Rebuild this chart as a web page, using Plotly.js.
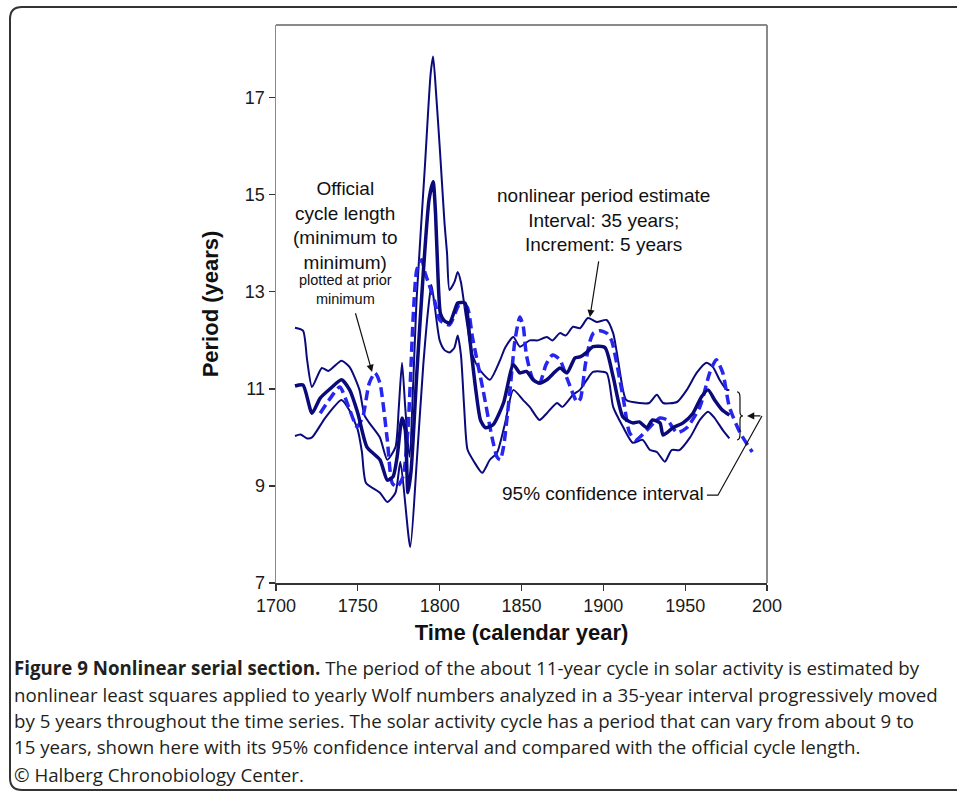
<!DOCTYPE html>
<html>
<head>
<meta charset="utf-8">
<script src="https://cdn.plot.ly/plotly-3.0.1.min.js"></script>
<style>
html,body{margin:0;padding:0;background:#fff;}
#chart{width:957px;height:795px;}
</style>
</head>
<body>
<div id="chart"></div>
<script>
// ---- data ----
const centerYears = [1711.6,1716.5,1722,1727,1733,1740,1745,1750,1755.6,1763.5,1768,1771.5,1774,1777,1779,1780.6,1782.5,1786,1790,1793.5,1796,1797.5,1799,1800.5,1803,1806,1809,1811,1815.5,1818.5,1822,1825,1828,1832.6,1839,1845,1849,1853,1857,1861,1865.5,1873.5,1877.8,1882.7,1885.7,1890,1893.7,1901,1906,1912,1918,1922,1926.6,1930,1934.6,1936.5,1942.6,1948.7,1954.8,1960,1964,1968,1972.5,1977];
const centerVals  = [11.06,11.08,10.5,10.81,11.0,11.19,10.98,10.5,9.8,9.54,9.12,9.19,9.6,10.4,10.15,8.86,9.3,11.3,13.4,14.9,15.27,14.6,13.3,12.55,12.4,12.36,12.6,12.77,12.77,12.0,11.0,10.35,10.2,10.26,10.71,11.5,11.33,11.36,11.19,11.12,11.19,11.43,11.33,11.64,11.66,11.76,11.87,11.85,11.25,10.42,10.3,10.32,10.2,10.36,10.3,10.05,10.2,10.3,10.5,10.84,10.98,10.77,10.57,10.46];

const upperYears = [1711.6,1716.5,1719,1722,1728,1732,1740,1745,1751,1754,1757,1763.5,1768,1773,1775,1777,1779,1781.5,1786,1791,1794.5,1796,1798,1800,1801.5,1803,1804.5,1806,1809,1811,1813,1816,1820,1824.6,1830.7,1837,1840,1845,1849,1855,1860,1865.5,1869,1873.5,1877,1881.5,1885.7,1890.6,1896,1902,1906,1908,1912,1914,1922,1928,1932.7,1936.5,1945,1951,1957,1963,1967,1971,1975.5,1977];
const upperVals  = [12.26,12.2,11.6,11.04,11.43,11.37,11.58,11.45,10.98,10.46,10.3,10.0,9.54,9.8,10.6,11.54,10.6,9.6,12.9,15.6,17.5,17.85,17.0,16.0,15.2,14.4,13.8,13.04,13.2,13.41,13.2,12.5,11.7,11.39,11.19,11.6,11.85,12.07,11.87,12.0,12.0,12.07,12.0,12.15,12.1,12.28,12.25,12.46,12.38,12.42,12.15,11.8,10.98,10.77,10.71,10.71,10.88,10.71,10.73,10.98,11.33,11.54,11.45,11.19,10.98,10.98];

const lowerYears = [1711.6,1715,1719,1722,1730,1740,1745,1750,1752.5,1755,1763.5,1768,1773,1776,1782,1786,1790,1793.5,1795,1797,1800,1803,1806,1809,1811,1813,1815,1817,1821,1826,1830.7,1835,1840,1845,1851,1855,1861,1865.5,1871.7,1875,1881.5,1885.7,1890,1893.7,1902,1906,1912,1918,1924,1928.5,1932.7,1937.6,1941.7,1946.5,1953,1959,1964,1968,1973,1977];
const lowerVals  = [10.03,10.06,9.98,10.0,10.4,10.77,10.55,10.15,9.7,9.06,8.86,8.67,8.86,9.5,7.74,9.5,11.5,12.8,13.14,12.7,12.0,11.8,11.75,11.85,12.1,11.7,10.6,9.75,9.5,9.27,9.54,9.68,10.3,10.98,10.77,10.63,10.36,10.5,10.71,10.63,10.88,10.98,11.19,11.35,11.33,10.63,10.22,9.89,9.95,9.74,9.7,9.5,9.74,9.74,10.0,10.36,10.53,10.4,10.15,9.98];

const officialYears = [1727,1733,1739,1745,1749.5,1753,1757,1760.5,1763.5,1768,1771,1774,1777.6,1780.6,1784,1786,1789,1791,1793,1797,1800,1806,1812,1816.7,1820,1826.5,1832,1835,1837,1839,1843,1846,1849,1851,1853,1857,1861,1865,1869,1873.5,1878,1884,1886,1889,1892,1894,1898,1902,1905,1912,1916,1920,1926.6,1934.6,1939,1945,1951,1959,1965,1969,1973,1977,1983.5,1991];
const officialVals  = [10.5,10.8,11.04,10.57,10.22,10.42,11.12,11.33,11.12,9.95,9.06,8.98,9.19,10.15,12.6,13.45,13.66,13.4,13.2,12.8,12.42,12.32,12.73,12.69,12.07,10.98,10.0,9.6,9.54,9.8,10.98,12.0,12.48,12.3,11.7,11.2,11.12,11.5,11.7,11.6,11.2,10.73,10.8,11.5,12.0,12.15,12.2,12.15,12.0,10.84,10.1,9.95,10.15,10.4,10.36,10.1,10.2,10.63,11.33,11.6,11.33,10.63,10.1,9.7];

const xTickVals = [1700,1750,1800,1850,1900,1950,2000];
const xTickText = ['1700','1750','1800','1850','1900','1950','200'];
const yTickVals = [7,9,11,13,15,17];

// ---- chart ----
const navy = '#0a0a7a';
const blue = '#2626f0';
const FONT = 'Liberation Sans, Arial, sans-serif';
const CAPFONT = 'Open Sans, Noto Sans, sans-serif';

const traces = [
  {x: upperYears, y: upperVals, mode:'lines', line:{color:navy, width:2, shape:'spline', smoothing:0.6}, hoverinfo:'skip'},
  {x: lowerYears, y: lowerVals, mode:'lines', line:{color:navy, width:2, shape:'spline', smoothing:0.6}, hoverinfo:'skip'},
  {x: officialYears, y: officialVals, mode:'lines', line:{color:blue, width:3.5, dash:'10px,5px', shape:'spline', smoothing:0.6}, hoverinfo:'skip'},
  {x: centerYears, y: centerVals, mode:'lines', line:{color:navy, width:3.5, shape:'spline', smoothing:0.6}, hoverinfo:'skip'}
];

// paper helpers (plot area: x 276..767 px, y 25..583 px)
const px = v => (v - 276) / 491;
const py = v => (583 - v) / 558;

const captionLines = [
  '<b>Figure 9 Nonlinear serial section.</b> The period of the about 11-year cycle in solar activity is estimated by',
  'nonlinear least squares applied to yearly Wolf numbers analyzed in a 35-year interval progressively moved',
  'by 5 years throughout the time series. The solar activity cycle has a period that can vary from about 9 to',
  '15 years, shown here with its 95% confidence interval and compared with the official cycle length.',
  '© Halberg Chronobiology Center.'
];
const captionY = [667, 694, 720, 747, 774];

const annotations = [
  {xref:'x', yref:'y', x:1742.2, y:14.36, text:'Official<br>cycle length<br>(minimum to<br>minimum)', showarrow:false,
   font:{family:FONT, size:19, color:'#111'}, align:'center', xanchor:'center', yanchor:'middle'},
  {xref:'x', yref:'y', x:1742.2, y:13.05, text:'plotted at prior<br>minimum', showarrow:false,
   font:{family:FONT, size:14.5, color:'#111'}, align:'center', xanchor:'center', yanchor:'middle'},
  {xref:'x', yref:'y', x:1900.1, y:14.48, text:'nonlinear period estimate<br>Interval: 35 years;<br>Increment: 5 years', showarrow:false,
   font:{family:FONT, size:19, color:'#111'}, align:'center', xanchor:'center', yanchor:'middle'},
  {xref:'x', yref:'y', x:1899.5, y:8.84, text:'95% confidence interval', showarrow:false,
   font:{family:FONT, size:19, color:'#111'}, xanchor:'center', yanchor:'middle'},
  // arrows
  {xref:'x', yref:'y', axref:'x', ayref:'y', x:1758.7, y:11.35, ax:1748.3, ay:12.59, text:'', showarrow:true,
   arrowhead:2, arrowsize:1.2, arrowwidth:1.2, arrowcolor:'#111'},
  {xref:'x', yref:'y', axref:'x', ayref:'y', x:1891.8, y:12.48, ax:1897.3, ay:13.66, text:'', showarrow:true,
   arrowhead:2, arrowsize:1.2, arrowwidth:1.2, arrowcolor:'#111'},
  {xref:'x', yref:'y', axref:'x', ayref:'y', x:1987.8, y:10.443, ax:1996.9, ay:10.443, text:'', showarrow:true,
   arrowhead:2, arrowsize:1.2, arrowwidth:1.2, arrowcolor:'#111'}
];
captionLines.forEach((t, i) => {
  annotations.push({xref:'paper', yref:'paper', x:px(12), y:py(captionY[i]), text:t, showarrow:false,
    xanchor:'left', yanchor:'middle', align:'left', font:{family:CAPFONT, size:18.7, color:'#231f20'}});
});

const rx = 12/491, ry = 12/558;
const fx0 = px(10), fy1 = py(7), fy0 = py(790), fx2 = px(1000);
const framePath = `M ${fx2},${fy1} L ${fx0+rx},${fy1} Q ${fx0},${fy1} ${fx0},${fy1-ry} L ${fx0},${fy0+ry} Q ${fx0},${fy0} ${fx0+rx},${fy0} L ${fx2},${fy0}`;

const shapes = [
  {type:'line', xref:'paper', yref:'paper', x0:0, x1:1, y0:1, y1:1, line:{color:'#8a8a8a', width:2}},
  {type:'line', xref:'paper', yref:'paper', x0:1, x1:1, y0:0, y1:1, line:{color:'#8a8a8a', width:2}},
  {type:'path', xref:'paper', yref:'paper', path:framePath, line:{color:'#333', width:2}},
  {type:'path', xref:'x', yref:'y', path:'M 1963.3,8.81 L 1970.0,8.81 L 1996.9,10.443', line:{color:'#111', width:1.2}},
  {type:'path', xref:'x', yref:'y',
   path:'M 1981.7,10.94 Q 1983.5,10.94 1983.5,10.82 L 1983.5,10.53 Q 1983.5,10.443 1985.3,10.443 Q 1983.5,10.443 1983.5,10.36 L 1983.5,10.07 Q 1983.5,9.948 1981.7,9.948',
   line:{color:'#111', width:1.2}}
];

const layout = {
  width:957, height:795,
  margin:{l:276, r:190, t:25, b:212},
  paper_bgcolor:'#fff', plot_bgcolor:'#fff',
  showlegend:false,
  xaxis:{range:[1700,2000], tickvals:xTickVals, ticktext:xTickText, ticks:'outside', ticklen:6, tickwidth:1.2, tickcolor:'#333',
    showline:true, linecolor:'#333', linewidth:1.5, showgrid:false, zeroline:false,
    tickfont:{family:FONT, size:18, color:'#1a1a1a'},
    title:{text:'<b>Time (calendar year)</b>', font:{family:FONT, size:22, color:'#111'}, standoff:9}},
  yaxis:{range:[7,18.5], tickvals:yTickVals, ticks:'outside', ticklen:6, tickwidth:1.2, tickcolor:'#333',
    showline:true, linecolor:'#8a8a8a', linewidth:1.5, showgrid:false, zeroline:false,
    tickfont:{family:FONT, size:18, color:'#1a1a1a'},
    title:{text:'<b>Period (years)</b>', font:{family:FONT, size:22, color:'#111'}, standoff:20}},
  annotations:annotations,
  shapes:shapes
};

Plotly.newPlot('chart', traces, layout, {displayModeBar:false, staticPlot:true});
</script>
</body>
</html>
